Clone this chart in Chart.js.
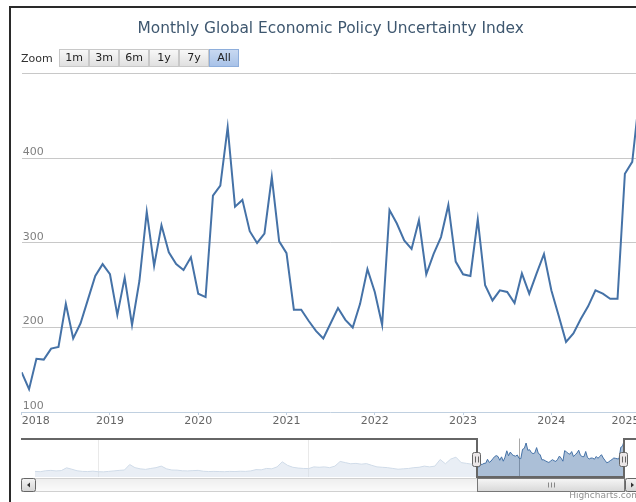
<!DOCTYPE html>
<html>
<head>
<meta charset="utf-8">
<title>Monthly Global Economic Policy Uncertainty Index</title>
<script src="https://cdn.jsdelivr.net/npm/chart.js@4.4.1/dist/chart.umd.min.js"></script>
<style>
  html, body { margin: 0; padding: 0; width: 636px; height: 502px; overflow: hidden; background: #fff; }
  body { position: relative; font-family: "DejaVu Sans", sans-serif; }
  #frame { position: absolute; left: 9px; top: 6px; width: 700px; height: 600px;
    border-left: 2px solid #2a2a2a; border-top: 2px solid #2a2a2a; pointer-events: none; z-index: 5; }
  #mainChart { position: absolute; left: 10px; top: 8px; }
  #navChart { position: absolute; left: 10px; top: 430px; }
  #rangeSelector { position: absolute; left: 21px; top: 49px; height: 18px; font-size: 11px; color: #333; }
  #rangeSelector .label { position: absolute; left: 0; top: 1px; line-height: 18px; }
  .btn { position: absolute; top: 0; width: 30px; height: 18px; box-sizing: border-box;
    border: 1px solid #c8c8c8; background: linear-gradient(#f8f8f8, #e0e0e0);
    text-align: center; line-height: 16px; color: #222; }
  .btn.active { background: linear-gradient(#c8d9f1, #a8c2e8); border-color: #8eaedb; }
  #credit { position: absolute; left: 520px; width: 120px; top: 490px; text-align: right; font-size: 9px; color: #909090; }
</style>
</head>
<body>
<div id="frame"></div>
<canvas id="mainChart" width="640" height="422"></canvas>
<canvas id="navChart" width="640" height="72"></canvas>
<div id="rangeSelector"><span class="label">Zoom</span></div>
<div id="credit">Highcharts.com</div>
<script>
var chartTitle = 'Monthly Global Economic Policy Uncertainty Index';

// Monthly index, Jan 2018 - Jan 2025 (main chart)
var startYear = 2018;
var gepuMonthly = [
    147, 127, 163, 162, 175, 177, 228, 187, 205, 233, 261, 275,
    263, 215, 259, 203, 255, 337, 273, 321, 289, 275, 268, 283,
    240, 236, 356, 368, 437, 343, 351, 314, 300, 311, 378, 302,
    288, 221, 221, 208, 196, 187, 205, 223, 209, 200, 228, 269,
    242, 203, 339, 323, 303, 293, 327, 263, 287, 307, 345, 278,
    263, 261, 328, 250, 232, 244, 242, 229, 264, 240, 264, 287,
    244, 214, 183, 193, 210, 225, 244, 240, 234, 234, 382, 396,
    476
];

// Earlier history seen in the navigator, quarterly, 1997 Q1 - 2017 Q4
var navStartYear = 1997;
var gepuQuarterly = [
    72, 68, 80, 85,
    78, 82, 118, 100,
    80, 72, 70, 75,
    68, 66, 72, 78,
    85, 90, 160, 120,
    105, 98, 110, 120,
    140, 105, 90, 88,
    80, 78, 82, 85,
    74, 70, 72, 70,
    68, 72, 70, 74,
    72, 78, 95, 92,
    110, 105, 130, 195,
    150, 125, 115, 110,
    108, 130, 125, 130,
    120, 140, 200, 185,
    170, 175, 165, 172,
    150, 130, 125, 120,
    110, 100, 105, 110,
    120, 125, 140, 130,
    140, 225, 170, 230,
    255, 185, 175, 165
];

var xYears = [2018, 2019, 2020, 2021, 2022, 2023, 2024, 2025];
var yTicks = [100, 200, 300, 400, 500];
var navYears = [2000, 2010, 2020];
var selection = [2018, 2025];
var rangeButtons = ['1m', '3m', '6m', '1y', '7y', 'All'];

Chart.defaults.font.family = '"DejaVu Sans", sans-serif';

// Range selector buttons
var rs = document.getElementById('rangeSelector');
rangeButtons.forEach(function (label, i) {
    var b = document.createElement('div');
    b.className = 'btn' + (label === 'All' ? ' active' : '');
    b.style.left = (38 + i * 30) + 'px';
    b.textContent = label;
    rs.appendChild(b);
});

var mainPoints = gepuMonthly.map(function (v, i) {
    return { x: startYear + i / 12, y: v };
});

// Main line chart
new Chart(document.getElementById('mainChart'), {
    type: 'line',
    data: {
        datasets: [{
            data: mainPoints,
            borderColor: '#4572A7',
            borderWidth: 2,
            pointRadius: 0,
            tension: 0,
            fill: false
        }]
    },
    options: {
        responsive: false,
        animation: false,
        layout: { padding: { left: 11.7, right: 10.4, top: 0, bottom: 0 } },
        plugins: {
            legend: { display: false },
            tooltip: { enabled: false },
            title: {
                display: true,
                text: chartTitle,
                color: '#3E576F',
                font: { size: 15.4, weight: 'normal' },
                padding: { top: 11.5, bottom: 36 }
            }
        },
        scales: {
            x: {
                type: 'linear',
                min: xYears[0],
                max: xYears[xYears.length - 1],
                afterBuildTicks: function (s) {
                    s.ticks = xYears.map(function (v) { return { value: v }; });
                },
                afterFit: function (s) { s.height = 18; },
                grid: { drawOnChartArea: false, drawTicks: true, tickLength: 3, color: '#C0D0E0' },
                border: { color: '#C0D0E0', width: 1 },
                ticks: {
                    align: 'inner',
                    padding: 0,
                    maxRotation: 0,
                    autoSkip: false,
                    color: '#666',
                    font: { size: 11 },
                    callback: function (v) { return String(v); }
                }
            },
            y: {
                min: yTicks[0],
                max: yTicks[yTicks.length - 1],
                afterBuildTicks: function (s) {
                    s.ticks = yTicks.map(function (v) { return { value: v }; });
                },
                afterFit: function (s) { s.width = 0; },
                grid: {
                    drawTicks: false,
                    color: function (c) { return c.tick && c.tick.value === yTicks[0] ? 'rgba(0,0,0,0)' : '#C8C8C8'; }
                },
                border: { display: false },
                ticks: {
                    mirror: true,
                    padding: 1,
                    labelOffset: -6,
                    color: '#808080',
                    font: { size: 11 },
                    // last label is hidden, as in the stock chart
                    callback: function (v) { return v === yTicks[yTicks.length - 1] ? '' : String(v); }
                }
            }
        }
    }
});

function roundRect(ctx, x, y, w, h, r) {
    ctx.beginPath();
    ctx.moveTo(x + r, y);
    ctx.lineTo(x + w - r, y);
    ctx.quadraticCurveTo(x + w, y, x + w, y + r);
    ctx.lineTo(x + w, y + h - r);
    ctx.quadraticCurveTo(x + w, y + h, x + w - r, y + h);
    ctx.lineTo(x + r, y + h);
    ctx.quadraticCurveTo(x, y + h, x, y + h - r);
    ctx.lineTo(x, y + r);
    ctx.quadraticCurveTo(x, y, x + r, y);
    ctx.closePath();
}

// Navigator mask, outline, handles and scrollbar
var navigatorDecor = {
    id: 'navigatorDecor',
    afterDatasetsDraw: function (chart) {
        var ctx = chart.ctx, a = chart.chartArea, x = chart.scales.x;
        var x0 = x.getPixelForValue(selection[0]);
        var x1 = x.getPixelForValue(selection[1]);
        ctx.save();
        ctx.fillStyle = 'rgba(255,255,255,0.75)';
        ctx.fillRect(a.left, a.top, x0 - a.left, a.bottom - a.top);
        ctx.fillRect(x1, a.top, a.right - x1, a.bottom - a.top);
        ctx.restore();
    },
    afterDraw: function (chart) {
        var ctx = chart.ctx, a = chart.chartArea, x = chart.scales.x;
        var x0 = Math.round(x.getPixelForValue(selection[0]));
        var x1 = Math.round(x.getPixelForValue(selection[1]));
        var left = Math.round(a.left) - 14, right = Math.round(a.right) + 15;
        var top = Math.round(a.top), bottom = Math.round(a.bottom);
        ctx.save();

        // outline
        ctx.strokeStyle = '#666';
        ctx.lineWidth = 2;
        ctx.beginPath();
        ctx.moveTo(left, top);
        ctx.lineTo(x0, top);
        ctx.lineTo(x0, bottom);
        ctx.lineTo(x1, bottom);
        ctx.lineTo(x1, top);
        ctx.lineTo(right, top);
        ctx.stroke();

        // scrollbar track
        var sy = bottom + 1.5, sh = 13;
        var g = ctx.createLinearGradient(0, sy, 0, sy + sh);
        g.addColorStop(0, '#eeeeee');
        g.addColorStop(1, '#fbfbfb');
        ctx.fillStyle = g;
        ctx.strokeStyle = '#d0d0d0';
        ctx.lineWidth = 1;
        ctx.fillRect(left + 0.5, sy, right - left, sh);
        ctx.strokeRect(left + 0.5, sy, right - left, sh);

        // scrollbar thumb
        var tg = ctx.createLinearGradient(0, sy, 0, sy + sh);
        tg.addColorStop(0, '#f6f6f6');
        tg.addColorStop(1, '#d8d8d8');
        ctx.fillStyle = tg;
        ctx.strokeStyle = '#777';
        ctx.fillRect(x0 + 0.5, sy, x1 - x0, sh);
        ctx.strokeRect(x0 + 0.5, sy, x1 - x0, sh);
        var mid = Math.round((x0 + x1) / 2);
        ctx.strokeStyle = '#888';
        ctx.beginPath();
        [-3, 0, 3].forEach(function (d) {
            ctx.moveTo(mid + d + 0.5, sy + 4);
            ctx.lineTo(mid + d + 0.5, sy + 9);
        });
        ctx.stroke();

        // arrow buttons
        [[left, -1], [right - 14, 1]].forEach(function (btn) {
            var bx = btn[0] + 0.5;
            var bg = ctx.createLinearGradient(0, sy, 0, sy + sh);
            bg.addColorStop(0, '#f4f4f4');
            bg.addColorStop(1, '#d4d4d4');
            ctx.fillStyle = bg;
            ctx.strokeStyle = '#666';
            roundRect(ctx, bx, sy, 14, sh, 2);
            ctx.fill();
            ctx.stroke();
            var cx = bx + 7, cy = sy + sh / 2;
            ctx.fillStyle = '#333';
            ctx.beginPath();
            ctx.moveTo(cx - 1.5 * btn[1], cy - 2.5);
            ctx.lineTo(cx + 1.5 * btn[1], cy);
            ctx.lineTo(cx - 1.5 * btn[1], cy + 2.5);
            ctx.closePath();
            ctx.fill();
        });

        // handles
        [x0, x1].forEach(function (hxc) {
            var hx = hxc - 4.5, hy = top + 13.5;
            ctx.fillStyle = '#ebe7e8';
            ctx.strokeStyle = '#666';
            roundRect(ctx, hx, hy, 8, 14, 2);
            ctx.fill();
            ctx.stroke();
            ctx.beginPath();
            ctx.moveTo(hxc - 1.5, hy + 4);
            ctx.lineTo(hxc - 1.5, hy + 10);
            ctx.moveTo(hxc + 1.5, hy + 4);
            ctx.lineTo(hxc + 1.5, hy + 10);
            ctx.stroke();
        });
        ctx.restore();
    }
};

var navPoints = gepuQuarterly.map(function (v, i) {
    return { x: navStartYear + i * 0.25, y: v };
}).concat(mainPoints);

// Navigator (full history)
new Chart(document.getElementById('navChart'), {
    type: 'line',
    data: {
        datasets: [{
            data: navPoints,
            borderColor: '#4572A7',
            borderWidth: 1,
            backgroundColor: 'rgba(69, 114, 167, 0.45)',
            fill: 'origin',
            pointRadius: 0,
            tension: 0
        }]
    },
    plugins: [navigatorDecor],
    options: {
        responsive: false,
        animation: false,
        layout: { padding: { left: 25, right: 25.7, top: 8.5, bottom: 25 } },
        plugins: {
            legend: { display: false },
            tooltip: { enabled: false }
        },
        scales: {
            x: {
                type: 'linear',
                min: navStartYear,
                max: selection[1],
                afterBuildTicks: function (s) {
                    s.ticks = navYears.map(function (v) { return { value: v }; });
                },
                afterFit: function (s) { s.height = 0; },
                grid: { color: '#a8a8a8', drawTicks: false },
                border: { display: false },
                ticks: {
                    align: 'start',
                    labelOffset: 3,
                    padding: -14,
                    maxRotation: 0,
                    autoSkip: false,
                    z: 1,
                    color: '#777',
                    font: { size: 11 },
                    callback: function (v) { return String(v); }
                }
            },
            y: { display: false, min: 0, max: 495 }
        }
    }
});
</script>
</body>
</html>
